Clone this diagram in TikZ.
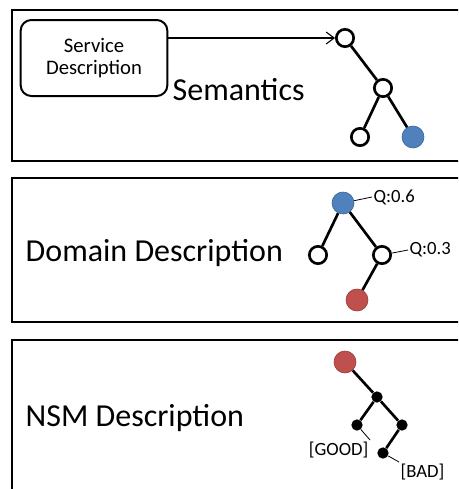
\documentclass[tikz,border=0pt]{standalone}
\usepackage{fontspec}
\setmainfont{Carlito}
\definecolor{nodeblue}{RGB}{79, 129, 189}
\definecolor{nodered}{RGB}{192, 80, 77}
\usetikzlibrary{arrows.meta, positioning}
\tikzset{
    panel/.style={draw=black, line width=2.2pt},
    svcbox/.style={rectangle, rounded corners=8pt, draw, line width=1.5pt, minimum width=110pt,
                   minimum height=57pt, align=center, font=\fontsize{15.5}{16.5}\selectfont},
    title/.style={anchor=west, font=\fontsize{24}{27}\selectfont},
    opennode/.style={circle, draw, line width=2pt, fill=white, minimum size=13pt, inner sep=0pt},
    bluenode/.style={circle, draw=nodeblue!80!black, line width=0.5pt, fill=nodeblue, minimum size=16.5pt, inner sep=0pt},
    rednode/.style={circle, draw=nodered!80!black, line width=0.5pt, fill=nodered, minimum size=16.5pt, inner sep=0pt},
    leafnode/.style={circle, fill=black, minimum size=8.5pt, inner sep=0pt},
    edge/.style={line width=2pt},
    leader/.style={line width=0.6pt},
    tag/.style={font=\fontsize{14}{16}\selectfont, inner sep=1pt},
    arrow/.style={-{Straight Barb[length=6pt, width=9pt]}, line width=0.8pt},
}
\begin{document}
\begin{tikzpicture}[x=0.75pt, y=-0.75pt]
    \clip (0,0) rectangle (458,489);
    % panels
    \draw[panel] (12,10) rectangle (480,161);
    \draw[panel] (12,178) rectangle (480,322);
    \draw[panel] (12,340) rectangle (480,500);

    % semantics
    \node[svcbox] (svc) at (94,58) {Service\\Description};
    \node[title] (sem) at (168,90) {Semantics};
    \node[opennode] (s1) at (345,38) {};
    \node[opennode] (s2) at (383,88) {};
    \node[opennode] (s3) at (360,137) {};
    \node[bluenode] (s4) at (413,137) {};
    \draw[edge] (s1) -- (s2);
    \draw[edge] (s2) -- (s3);
    \draw[edge] (s2) -- (s4);
    \draw[arrow] (svc.east |- s1) -- (s1);

    % domain
    \node[title] (dom) at (21,253) {Domain Description};
    \node[bluenode] (d1) at (343,203) {};
    \node[opennode] (d2) at (318,255) {};
    \node[opennode] (d3) at (382,255) {};
    \node[rednode] (d4) at (357,300) {};
    \draw[edge] (d1) -- (d2);
    \draw[edge] (d1) -- (d3);
    \draw[edge] (d3) -- (d4);
    \node[tag, anchor=west] (q1) at (372,197) {Q:0.6};
    \node[tag, anchor=west] (q2) at (408,250) {Q:0.3};
    \draw[leader] (d1) -- (q1.west);
    \draw[leader] (d3) -- (q2.west);

    % nsm
    \node[title] (nsm) at (21,418) {NSM Description};
    \node[rednode] (n1) at (345,362) {};
    \node[leafnode] (n2) at (377,397) {};
    \node[leafnode] (n3) at (357,425) {};
    \node[leafnode] (n4) at (402,425) {};
    \node[leafnode] (n5) at (383,453) {};
    \draw[edge] (n1) -- (n2);
    \draw[edge] (n2) -- (n3);
    \draw[edge] (n2) -- (n4);
    \draw[edge] (n4) -- (n5);
    \node[tag, anchor=north east] (good) at (370,440) {[GOOD]};
    \node[tag, anchor=north west] (bad) at (399,462) {[BAD]};
    \draw[leader] (n3) -- (good.north east);
    \draw[leader] (n5) -- (bad.north west);
\end{tikzpicture}
\end{document}
